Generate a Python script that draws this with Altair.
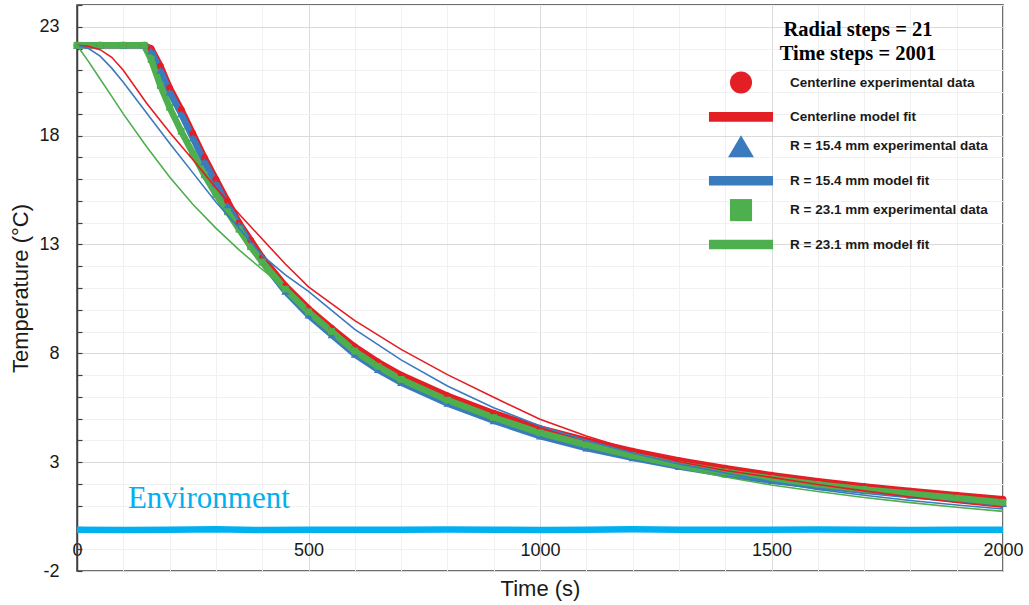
import altair as alt
import pandas as pd

# ---------------- data ----------------
series_names = [
    "Centerline experimental data",
    "Centerline model fit",
    "R = 15.4 mm experimental data",
    "R = 15.4 mm model fit",
    "R = 23.1 mm experimental data",
    "R = 23.1 mm model fit",
]
series_colors = ["#E41E25", "#E41E25", "#3A7BBE", "#3A7BBE", "#4DAF4E", "#4DAF4E"]

exp_time = [0, 50, 100, 145, 160, 180, 200, 225, 250, 275, 300, 325, 350, 375, 400,
            450, 500, 550, 600, 650, 700, 800, 900, 1000, 1100, 1200, 1300, 1400,
            1500, 1600, 1700, 1800, 1900, 2000]
centerline_exp = [22.15, 22.15, 22.15, 22.15, 22.0, 21.2, 20.2, 19.2, 18.1, 17.0, 16.0,
                  15.0, 14.0, 13.2, 12.4, 11.1, 10.05, 9.15, 8.3, 7.6, 7.0, 6.05, 5.25,
                  4.55, 4.0, 3.5, 3.08, 2.72, 2.4, 2.12, 1.88, 1.67, 1.48, 1.3]
r154_exp = [22.15, 22.15, 22.15, 22.15, 21.9, 21.0, 20.0, 19.0, 17.9, 16.8, 15.8, 14.8,
            13.9, 13.0, 12.2, 10.85, 9.75, 8.85, 7.95, 7.25, 6.65, 5.7, 4.9, 4.2, 3.65,
            3.2, 2.8, 2.45, 2.15, 1.9, 1.68, 1.48, 1.3, 1.1]
r231_exp = [22.15, 22.15, 22.15, 22.15, 21.5, 20.3, 19.3, 18.2, 17.2, 16.2, 15.3, 14.5,
            13.7, 12.9, 12.2, 10.95, 9.9, 9.0, 8.1, 7.4, 6.8, 5.85, 5.05, 4.35, 3.8,
            3.3, 2.9, 2.55, 2.25, 1.98, 1.75, 1.55, 1.35, 1.15]

fit_time = [0, 25, 50, 75, 100, 150, 200, 250, 300, 350, 400, 450, 500, 600, 700, 800,
            900, 1000, 1100, 1200, 1300, 1400, 1500, 1600, 1700, 1800, 1900, 2000]
centerline_fit = [22.15, 22.1, 21.95, 21.6, 21.0, 19.5, 18.15, 16.9, 15.6, 14.4, 13.25,
                  12.1, 11.05, 9.5, 8.18, 7.02, 5.98, 4.97, 4.2, 3.55, 3.02, 2.62, 2.3,
                  1.97, 1.68, 1.4, 1.15, 0.93]
r154_fit = [22.15, 22.0, 21.65, 21.1, 20.45, 19.05, 17.65, 16.3, 14.95, 13.75, 12.5,
            11.6, 10.85, 9.1, 7.7, 6.5, 5.5, 4.66, 4.0, 3.42, 2.92, 2.5, 2.1, 1.75, 1.48,
            1.24, 1.03, 0.85]
r231_fit = [22.15, 21.4, 20.6, 19.8, 19.0, 17.5, 16.1, 14.85, 13.75, 12.75, 11.85, 11.0,
            10.0, 8.2, 6.85, 5.85, 5.0, 4.3, 3.7, 3.2, 2.75, 2.32, 1.95, 1.65, 1.38,
            1.14, 0.93, 0.74]

env_time = [0, 100, 200, 300, 400, 500, 600, 700, 800, 900, 1000, 1100, 1200, 1300,
            1400, 1500, 1600, 1700, 1800, 1900, 2000]
env_temp = [-0.10, -0.12, -0.10, -0.08, -0.12, -0.10, -0.10, -0.11, -0.09, -0.10, -0.12,
            -0.10, -0.08, -0.10, -0.11, -0.10, -0.09, -0.10, -0.12, -0.10, -0.10]

env_label = ["Environment"]
env_label_time = [110]
env_label_temp = [1.3]

x_ticks = [0, 100, 200, 300, 400, 500, 600, 700, 800, 900, 1000, 1100, 1200, 1300,
           1400, 1500, 1600, 1700, 1800, 1900, 2000]
y_ticks = [-2, -1, 0, 1, 2, 3, 4, 5, 6, 7, 8, 9, 10, 11, 12, 13, 14, 15, 16, 17, 18,
           19, 20, 21, 22, 23, 24]

legend_title = ["Radial steps = 21", "Time steps = 2001"]

# ---------------- tables ----------------
exp_sets = [(series_names[0], centerline_exp, series_colors[0]),
            (series_names[2], r154_exp, series_colors[2]),
            (series_names[4], r231_exp, series_colors[4])]
fit_sets = [(series_names[1], centerline_fit, series_colors[1]),
            (series_names[3], r154_fit, series_colors[3]),
            (series_names[5], r231_fit, series_colors[5])]

exp_df = pd.concat([
    pd.DataFrame({"time": exp_time, "temp": v, "series": n}) for n, v, _ in exp_sets
], ignore_index=True)
env_df = pd.DataFrame({"time": env_time, "temp": env_temp})
lab_df = pd.DataFrame({"time": env_label_time, "temp": env_label_temp, "label": env_label})

# ---------------- symbols ----------------
circle = "M0.92,0A0.92,0.92,0,1,1,-0.92,0A0.92,0.92,0,1,1,0.92,0Z"
triangle = "M0,-0.92L1.08,0.92L-1.08,0.92Z"
square = "M-0.92,-0.92L0.92,-0.92L0.92,0.92L-0.92,0.92Z"
bar = "M-2.67,-0.4L2.67,-0.4L2.67,0.4L-2.67,0.4Z"
shape_range = [circle, bar, triangle, bar, square, bar]

font = "Liberation Sans"
ink = "#1a1a1a"

x_enc = alt.X(
    "time:Q",
    scale=alt.Scale(domain=[0, 2000], nice=False),
    axis=alt.Axis(
        values=x_ticks, format="d",
        labelExpr="datum.value % 500 === 0 ? datum.label : ''",
        labelFont=font, labelFontSize=18, labelColor=ink, labelPadding=14,
        labelFlush=False, labelOverlap=False, labelBound=False,
        ticks=False, domain=False, offset=-43.5,
        grid=True,
        gridColor={"condition": {"test": "datum.value % 500 === 0", "value": "#dadada"},
                   "value": "#f1f1f1"},
        gridWidth=1,
        title="Time (s)", titleFont=font, titleFontSize=22, titleFontWeight="normal",
        titleColor=ink, titlePadding=19,
    ),
)
y_enc = alt.Y(
    "temp:Q",
    scale=alt.Scale(domain=[-2, 24], nice=False, zero=False),
    axis=alt.Axis(
        values=y_ticks,
        labelExpr="(datum.value + 2) % 5 === 0 ? '' + datum.value : ''",
        labelFont=font, labelFontSize=18, labelColor=ink, labelPadding=23,
        labelOverlap=False, labelFlush=False,
        ticks=True, tickSize={"expr": "-5"}, tickColor="#404040", tickWidth=1.2,
        domain=True, domainColor="#404040", domainWidth=1.5,
        grid=True,
        gridColor={"condition": {"test": "(datum.value + 2) % 5 === 0", "value": "#dadada"},
                   "value": "#f1f1f1"},
        gridWidth=1,
        title="Temperature (°C)", titleFont=font, titleFontSize=22,
        titleFontWeight="normal", titleColor=ink, titlePadding=6,
    ),
)

color_scale = alt.Scale(domain=series_names, range=series_colors)
shape_scale = alt.Scale(domain=series_names, range=shape_range)

legend = alt.Legend(
    title=legend_title, orient="none", legendX=652, legendY=15, direction="vertical",
    symbolSize=576, symbolStrokeWidth=0, symbolOpacity=1, labelOffset=37, rowPadding=10.4,
    labelFont=font, labelFontSize=13.5, labelFontWeight="bold", labelColor=ink,
    labelLimit=400, titleFont="Liberation Serif", titleFontSize=20.5,
    titleFontWeight="bold", titleColor="black", titleAnchor="middle",
    titleAlign="center", titleLineHeight=24, titlePadding=6, titleLimit=500, padding=0,
)

layers = []
for n, v, c in exp_sets:
    df = pd.DataFrame({"time": exp_time, "temp": v})
    layers.append(alt.Chart(df).mark_line(strokeWidth=6.5, color=c).encode(x=x_enc, y=y_enc))

layers.append(
    alt.Chart(exp_df).mark_point(filled=True, size=55, opacity=1).encode(
        x=x_enc, y=y_enc,
        color=alt.Color("series:N", scale=color_scale, legend=legend),
        shape=alt.Shape("series:N", scale=shape_scale, legend=legend),
    )
)

for n, v, c in fit_sets:
    df = pd.DataFrame({"time": fit_time, "temp": v})
    layers.append(alt.Chart(df).mark_line(strokeWidth=1.6, color=c).encode(x=x_enc, y=y_enc))

layers.append(alt.Chart(env_df).mark_line(strokeWidth=6.5, color="#00B0F0").encode(
    x=x_enc, y=y_enc))
layers.append(alt.Chart(lab_df).mark_text(
    align="left", baseline="middle", font="Liberation Serif", fontSize=31,
    color="#00B0F0",
).encode(x=x_enc, y=y_enc, text="label:N"))

chart = alt.layer(*layers).properties(
    width=926, height=566,
    padding={"left": 77, "top": 5, "right": 26, "bottom": 34},
    autosize=alt.AutoSizeParams(type="none"),
    background="white",
).configure_view(stroke="#404040", strokeWidth=1.5)

chart.save("out.html", embed_options={"renderer": "svg", "actions": False})
